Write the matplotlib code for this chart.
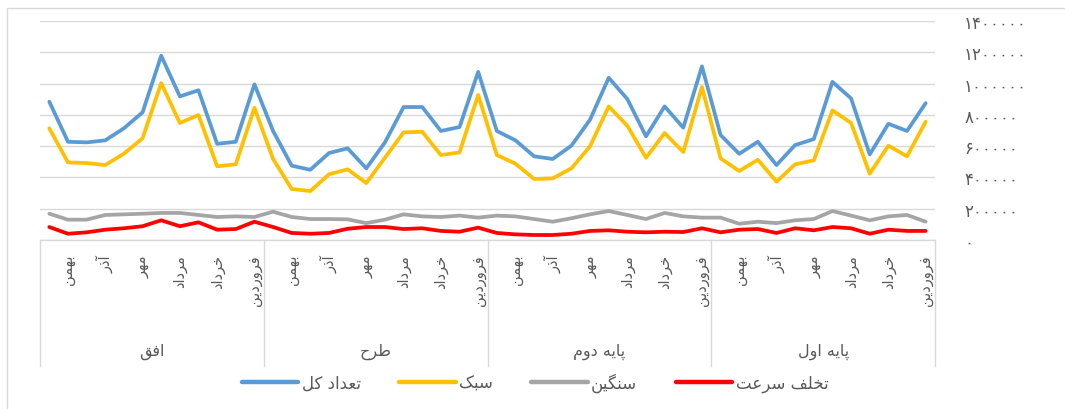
import matplotlib
matplotlib.use('Agg')
import matplotlib.pyplot as plt
from matplotlib.patches import Rectangle
from matplotlib.lines import Line2D

plt.rcParams['font.family'] = ['DejaVu Sans']

# months as plotted within each group (right-to-left chronology)
months = ['اسفند', 'بهمن', 'دی', 'آذر', 'آبان', 'مهر',
          'شهریور', 'مرداد', 'تیر', 'خرداد', 'اردیبهشت', 'فروردین']
groups = ['افق', 'طرح', 'پایه دوم', 'پایه اول']
series_names = ['تعداد کل', 'سبک', 'سنگین', 'تخلف سرعت']
series_colors = ['#5B9BD5', '#FFC000', '#A5A5A5', '#FF0000']

total = [884000, 628000, 624000, 637000, 714000, 816000, 1178000, 918000, 957000, 615000, 628000, 995000,
         697000, 475000, 449000, 556000, 586000, 458000, 624000, 850000, 850000, 697000, 722000, 1075000,
         697000, 637000, 535000, 518000, 603000, 769000, 1037000, 901000, 663000, 854000, 718000, 1110000,
         671000, 551000, 628000, 479000, 607000, 645000, 1011000, 905000, 547000, 743000, 697000, 875000]
light = [714000, 496000, 492000, 479000, 552000, 650000, 1003000, 748000, 799000, 471000, 484000, 845000,
         518000, 326000, 313000, 420000, 452000, 364000, 526000, 688000, 692000, 543000, 560000, 927000,
         543000, 488000, 390000, 394000, 458000, 599000, 854000, 730000, 526000, 684000, 562000, 978000,
         522000, 441000, 513000, 373000, 484000, 509000, 829000, 748000, 424000, 603000, 535000, 756000]
heavy = [168000, 130000, 130000, 160000, 164000, 168000, 173000, 173000, 160000, 147000, 151000, 147000,
         181000, 147000, 134000, 134000, 132000, 108000, 130000, 164000, 151000, 147000, 156000, 143000,
         156000, 151000, 134000, 117000, 139000, 164000, 185000, 160000, 134000, 173000, 151000, 143000,
         143000, 104000, 117000, 108000, 126000, 134000, 185000, 156000, 126000, 151000, 160000, 117000]
speeding = [83000, 40000, 49000, 66000, 75000, 88000, 126000, 88000, 113000, 66000, 70000, 117000,
            83000, 45000, 40000, 45000, 72000, 83000, 83000, 70000, 75000, 58000, 53000, 79000,
            45000, 36000, 32000, 32000, 40000, 58000, 62000, 53000, 49000, 53000, 51000, 75000,
            49000, 66000, 70000, 45000, 75000, 62000, 83000, 75000, 40000, 66000, 58000, 58000]

# arabic presentation forms: isolated, final, initial, medial
FORMS = {
    'ا': (0xFE8D, 0xFE8E), 'آ': (0xFE81, 0xFE82),
    'د': (0xFEA9, 0xFEAA), 'ذ': (0xFEAB, 0xFEAC),
    'ر': (0xFEAD, 0xFEAE), 'و': (0xFEED, 0xFEEE),
    'ب': (0xFE8F, 0xFE90, 0xFE91, 0xFE92), 'پ': (0xFB56, 0xFB57, 0xFB58, 0xFB59),
    'ت': (0xFE95, 0xFE96, 0xFE97, 0xFE98), 'ح': (0xFEA1, 0xFEA2, 0xFEA3, 0xFEA4),
    'خ': (0xFEA5, 0xFEA6, 0xFEA7, 0xFEA8), 'س': (0xFEB1, 0xFEB2, 0xFEB3, 0xFEB4),
    'ش': (0xFEB5, 0xFEB6, 0xFEB7, 0xFEB8), 'ط': (0xFEC1, 0xFEC2, 0xFEC3, 0xFEC4),
    'ع': (0xFEC9, 0xFECA, 0xFECB, 0xFECC), 'ف': (0xFED1, 0xFED2, 0xFED3, 0xFED4),
    'ق': (0xFED5, 0xFED6, 0xFED7, 0xFED8), 'ک': (0xFB8E, 0xFB8F, 0xFB90, 0xFB91),
    'گ': (0xFB92, 0xFB93, 0xFB94, 0xFB95), 'ل': (0xFEDD, 0xFEDE, 0xFEDF, 0xFEE0),
    'م': (0xFEE1, 0xFEE2, 0xFEE3, 0xFEE4), 'ن': (0xFEE5, 0xFEE6, 0xFEE7, 0xFEE8),
    'ه': (0xFEE9, 0xFEEA, 0xFEEB, 0xFEEC), 'ی': (0xFBFC, 0xFBFD, 0xFBFE, 0xFBFF),
}


def shape(text):
    out = []
    for k, ch in enumerate(text):
        if ch not in FORMS:
            out.append(ch)
            continue
        prev = text[k - 1] if k > 0 else ''
        nxt = text[k + 1] if k + 1 < len(text) else ''
        jp = prev in FORMS and len(FORMS[prev]) == 4
        jn = len(FORMS[ch]) == 4 and nxt in FORMS
        f = FORMS[ch]
        if jp and jn:
            c = f[3]
        elif jp:
            c = f[1]
        elif jn:
            c = f[2]
        else:
            c = f[0]
        out.append(chr(c))
    return ''.join(reversed(out))


def fa_digits(v):
    return str(v).translate(str.maketrans('0123456789', '۰۱۲۳۴۵۶۷۸۹'))


W, H = 1065, 410
fig = plt.figure(figsize=(W / 100, H / 100), dpi=100)
ax = fig.add_axes([40 / W, 1 - 241 / H, 895 / W, 219 / H])

x = list(range(len(total)))
for vals, col in zip([total, light, heavy, speeding], series_colors):
    ax.plot(x, vals, color=col, lw=2.7, solid_joinstyle='round', solid_capstyle='round')

ax.set_xlim(-0.5, len(total) - 0.5)
ax.set_ylim(0, 1400000)
yt = list(range(0, 1400001, 200000))
ax.set_yticks(yt)
ax.set_yticklabels([fa_digits(v) for v in yt])
ax.yaxis.tick_right()
ax.tick_params(axis='y', length=0, pad=21, labelsize=12, labelcolor='#595959')
ax.set_xticks([])
ax.grid(axis='y', color='#D9D9D9', lw=1)
ax.set_axisbelow(True)
for s in ['top', 'left', 'right', 'bottom']:
    ax.spines[s].set_visible(False)

# category axis: dividers, month labels, group labels
trans = ax.get_xaxis_transform()
ax.plot([-0.5, 47.5], [0, 0], transform=trans, color='#D9D9D9', lw=1, clip_on=False)
for b in [-0.5, 11.5, 23.5, 35.5, 47.5]:
    ax.plot([b, b], [0, -126 / 219], transform=trans, color='#D9D9D9', lw=1, clip_on=False)
for g, gname in enumerate(groups):
    for m in range(1, 12, 2):
        ax.text(g * 12 + m, -14 / 219, shape(months[m]), rotation=90, ha='center', va='top',
                transform=trans, fontsize=10.5, color='#595959')
    ax.text(g * 12 + 5.5, -111 / 219, shape(gname), ha='center', va='center',
            transform=trans, fontsize=11.5, color='#595959')

handles = [Line2D([], [], color=c, lw=3.2, solid_capstyle='round') for c in series_colors]
leg = fig.legend(handles, [shape(n) for n in series_names], loc='center',
                 bbox_to_anchor=(535 / W, 1 - 383 / H), ncol=4, frameon=False, fontsize=12,
                 handlelength=3.4, handletextpad=0.2, columnspacing=2.3)
for t in leg.get_texts():
    t.set_color('#595959')

fig.add_artist(Rectangle((7 / W, -0.1), 1.2, 1 - 9 / H + 0.1, transform=fig.transFigure,
                         fill=False, edgecolor='#D9D9D9', lw=1))

fig.savefig('out.png', dpi=100)
